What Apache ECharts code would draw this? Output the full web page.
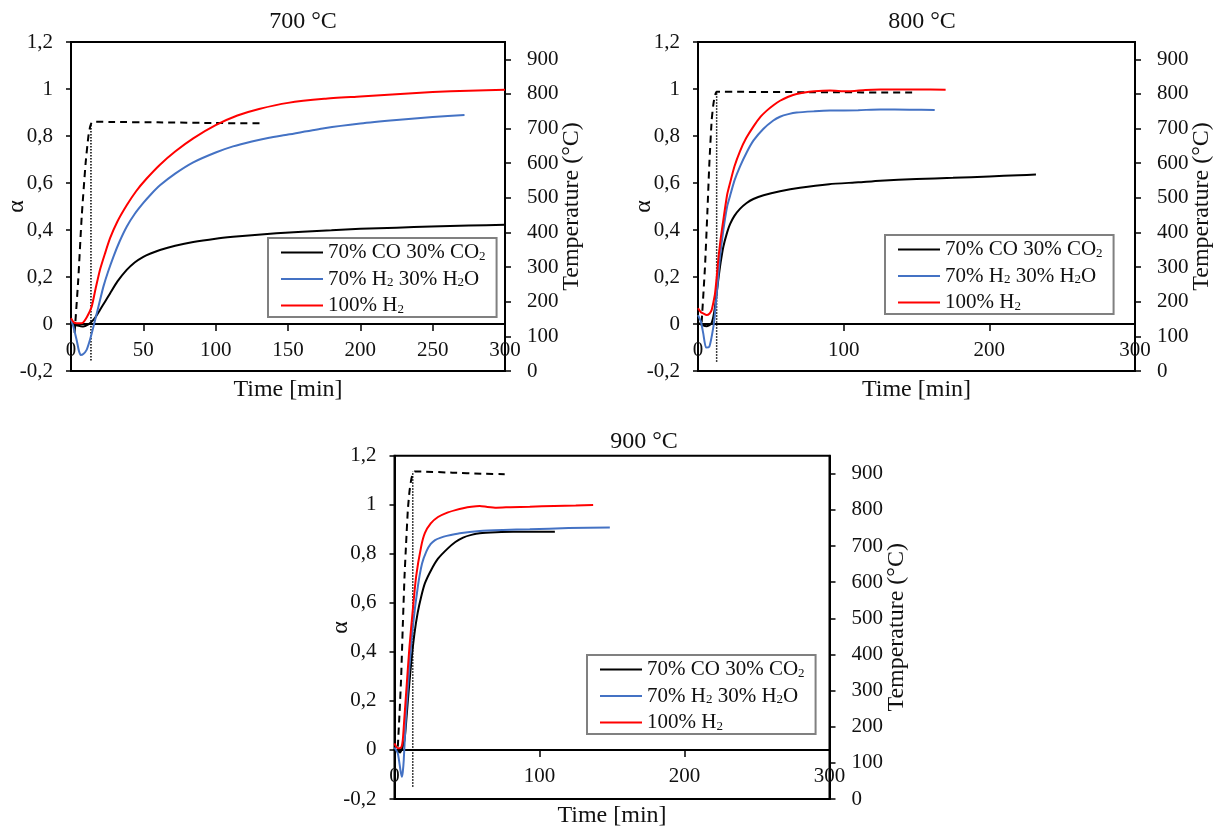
<!DOCTYPE html>
<html>
<head>
<meta charset="utf-8">
<script src="https://cdn.jsdelivr.net/npm/echarts@6/dist/echarts.min.js"></script>
<style>
  html, body { margin: 0; padding: 0; background: #fff; }
  #chart { width: 1225px; height: 832px; }
</style>
</head>
<body>
<div id="chart"></div>
<script>
// Reduction degree alpha vs time at three furnace set-points,
// with the measured sample temperature on the secondary axis.

const panelTitles = ['700 °C', '800 °C', '900 °C'];
const seriesNames = ['70% CO 30% CO2', '70% H2 30% H2O', '100% H2'];
const xTickStep = [50, 100, 100];

// ---- 700 °C : [time min, alpha] ----
const CO_700 = [[0,0.0],[3,-0.005],[8.5,-0.011],[12,-0.002],[14.3,0.01],[17,0.03],[20,0.06],[23.5,0.095],[27,0.13],[32,0.18],[38.5,0.23],[44,0.262],[50,0.286],[55,0.30],[61.5,0.315],[72,0.333],[84.5,0.349],[100,0.363],[112,0.371],[125,0.378],[142,0.386],[160,0.393],[180,0.399],[200,0.405],[225,0.41],[249,0.415],[275,0.419],[300,0.422]];
const W_700 = [[0,0.02],[1.6,-0.011],[3.9,-0.068],[5.5,-0.115],[6.7,-0.132],[8.5,-0.128],[10.8,-0.11],[12.5,-0.08],[14.3,-0.04],[17.8,0.045],[20,0.10],[22.4,0.159],[25.5,0.22],[29.3,0.286],[33.5,0.35],[38.5,0.414],[44,0.468],[50,0.515],[55,0.55],[61.5,0.59],[72,0.64],[84.5,0.688],[100,0.73],[112,0.756],[125,0.777],[137,0.793],[150,0.806],[175,0.833],[200,0.853],[225,0.868],[250,0.881],[272,0.889]];
const H2_700 = [[0,0.025],[1.5,0.01],[4,0.003],[8,0.005],[11,0.03],[14.3,0.074],[17,0.15],[20,0.23],[23.5,0.30],[27,0.365],[32,0.435],[38.5,0.505],[45,0.565],[52,0.617],[61.5,0.678],[72,0.734],[84.5,0.79],[100,0.846],[115,0.887],[130,0.915],[150,0.941],[175,0.958],[200,0.968],[222,0.977],[250,0.987],[275,0.993],[300,0.997]];
// [time min, °C]
const T_700 = [[2.5,110],[5,263],[7.4,446],[10.1,600],[12,677],[13.2,705],[14.2,716],[15.5,720],[30,719],[60,718],[100,716],[132,715]];
const MARK_700 = [[13.8,30],[13.8,716]];

// ---- 800 °C ----
const CO_800 = [[0,0.005],[3,-0.005],[6,-0.01],[9,0.0],[10.5,0.03],[11.7,0.074],[13.9,0.187],[15.5,0.26],[17.4,0.329],[20,0.39],[22,0.425],[25,0.46],[28.8,0.49],[33.4,0.515],[38,0.532],[45,0.548],[56.3,0.565],[70,0.58],[90,0.595],[110,0.603],[125,0.61],[150,0.617],[175,0.622],[200,0.628],[220,0.633],[232,0.636]];
const W_800 = [[0,0.038],[2,0.01],[3.6,-0.04],[5.5,-0.10],[7.8,-0.096],[9.8,-0.04],[11.2,0.017],[13.3,0.159],[15,0.28],[17.4,0.40],[20,0.50],[22,0.545],[25,0.61],[28.8,0.67],[33.4,0.73],[38,0.78],[44.8,0.83],[51.7,0.866],[56.3,0.882],[62,0.893],[67.7,0.90],[80,0.905],[90.6,0.908],[110,0.91],[125,0.913],[145,0.912],[162.5,0.911]];
const H2_800 = [[0,0.067],[2,0.05],[3.6,0.045],[5.9,0.038],[8,0.045],[9.4,0.06],[10.5,0.09],[11.7,0.13],[13,0.21],[14,0.28],[15.5,0.36],[17.4,0.443],[20,0.55],[22,0.60],[25,0.67],[28.8,0.735],[33,0.79],[38,0.84],[43,0.882],[47.2,0.908],[52,0.932],[56.3,0.95],[62,0.967],[67.7,0.979],[80,0.99],[90.6,0.994],[102,0.99],[115,0.996],[125,0.998],[150,0.998],[170,0.997]];
const T_800 = [[2.5,140],[4.8,301],[6.4,455],[7.8,600],[9.4,725],[10.4,765],[11.2,787],[12.8,806],[30,806],[80,805],[147,804]];
const MARK_800 = [[12.8,27],[12.8,806]];

// ---- 900 °C ----
const CO_900 = [[0,0.0],[2,-0.005],[4,-0.01],[5.5,0.01],[6.9,0.04],[8,0.11],[9.2,0.20],[11.5,0.354],[13.8,0.476],[16,0.56],[18.4,0.625],[21,0.68],[25.3,0.734],[30,0.78],[36.8,0.822],[42,0.848],[47.3,0.866],[53,0.877],[58.8,0.884],[70,0.888],[81.8,0.89],[95,0.89],[110.6,0.89]];
const W_900 = [[0,0.01],[2.3,-0.014],[4.1,-0.082],[5,-0.109],[5.7,-0.09],[6.4,-0.04],[8,0.15],[10.3,0.34],[12.6,0.50],[16.1,0.666],[19,0.76],[22,0.81],[25,0.84],[28,0.856],[32,0.866],[36,0.873],[45,0.884],[58.8,0.893],[75,0.897],[93.3,0.90],[120,0.905],[148.5,0.907]];
const H2_900 = [[0,0.027],[1,0.015],[2.3,0.007],[4.6,0.01],[5.7,0.04],[6.8,0.13],[8,0.23],[10.3,0.42],[12.6,0.57],[14.9,0.707],[18.4,0.83],[21,0.885],[25,0.924],[30,0.95],[36,0.967],[42,0.978],[47.3,0.986],[53,0.992],[58.8,0.995],[64,0.991],[70.3,0.988],[80,0.99],[93.3,0.992],[110,0.995],[125,0.997],[137,0.999]];
const T_900 = [[2.3,145],[3.5,240],[4.6,338],[5.7,477],[6.9,615],[8,707],[9.2,800],[10.3,850],[11.5,883],[12.6,900],[13.8,906],[20,906],[40,903],[60,900],[76,899]];
const MARK_900 = [[12.6,34],[12.6,906]];

const alphaData = [[CO_700, W_700, H2_700], [CO_800, W_800, H2_800], [CO_900, W_900, H2_900]];
const tempData = [T_700, T_800, T_900];
const markData = [MARK_700, MARK_800, MARK_900];

// ---- layout ----
const FONT = '"Liberation Serif", "Times New Roman", serif';
const INK = '#111';
const lineColors = ['#000000', '#4472c4', '#ff0000'];
const ALPHA_MIN = -0.2, ALPHA_MAX = 1.2;
const grids = [
  { left: 71, top: 42, width: 434, height: 329 },
  { left: 698, top: 42, width: 437, height: 329 },
  { left: 394.5, top: 455.7, width: 435, height: 343.3 }
];
const titlePos = [[303, 10], [922, 10], [644, 430]];
const legendPos = [[268, 238], [885, 235], [587, 655]];

const richLegend = {
  '70% CO 30% CO2': '70% CO 30% CO{s|2}',
  '70% H2 30% H2O': '70% H{s|2} 30% H{s|2}O',
  '100% H2': '100% H{s|2}'
};

const fmtAlpha = v => {
  const r = Math.round(v * 10) / 10;
  return String(r).replace('.', ',');
};

// the time axis runs along alpha = 0: shift it up from the plot's bottom edge
const zeroShift = g => -g.height * (0 - ALPHA_MIN) / (ALPHA_MAX - ALPHA_MIN);

const option = {
  backgroundColor: '#fff',
  animation: false,
  title: panelTitles.map((t, i) => ({
    text: t, left: titlePos[i][0], top: titlePos[i][1], textAlign: 'center', padding: 0,
    textStyle: { fontFamily: FONT, fontSize: 24, fontWeight: 'normal', color: INK }
  })),
  grid: grids.map(g => Object.assign({
    show: true, borderColor: '#000', borderWidth: 2, backgroundColor: 'transparent',
    containLabel: false, outerBoundsMode: 'none'
  }, g)),
  legend: legendPos.map((p, i) => ({
    left: p[0], top: p[1], orient: 'vertical',
    data: seriesNames, selectedMode: false,
    icon: 'rect', itemWidth: 42, itemHeight: 2, itemGap: 5.5,
    padding: [4, 11, 1, 13],
    backgroundColor: '#fff', borderColor: '#808080', borderWidth: 2,
    formatter: name => richLegend[name],
    textStyle: {
      fontFamily: FONT, fontSize: 21, color: INK, lineHeight: 21,
      rich: { s: { fontFamily: FONT, fontSize: 13, color: INK, verticalAlign: 'bottom', lineHeight: 14 } }
    }
  })),
  xAxis: grids.map((g, i) => ({
    gridIndex: i, type: 'value', min: 0, max: 300, interval: xTickStep[i],
    position: 'bottom', offset: zeroShift(g),
    name: 'Time [min]', nameLocation: 'middle', nameGap: 54, nameMoveOverlap: false,
    nameTextStyle: { fontFamily: FONT, fontSize: 24, color: INK },
    axisLine: { onZero: false, lineStyle: { color: '#000', width: 2 } },
    axisTick: { show: true, length: 7, lineStyle: { color: '#000', width: 1.5 } },
    axisLabel: { fontFamily: FONT, fontSize: 21, color: INK, margin: 16 },
    splitLine: { show: false }
  })),
  yAxis: [],
  series: []
};

grids.forEach((g, i) => {
  option.yAxis.push({
    gridIndex: i, type: 'value', position: 'left', min: ALPHA_MIN, max: ALPHA_MAX, interval: 0.2,
    name: 'α', nameLocation: 'middle', nameRotate: 90, nameGap: 42, nameMoveOverlap: false,
    nameTextStyle: { fontFamily: FONT, fontSize: 24, color: INK },
    axisLine: { show: true, onZero: false, lineStyle: { color: '#000', width: 2 } },
    axisTick: { show: true, length: 5, lineStyle: { color: '#000', width: 1.5 } },
    axisLabel: { fontFamily: FONT, fontSize: 21, color: INK, margin: 18, formatter: fmtAlpha },
    splitLine: { show: false }
  });
  option.yAxis.push({
    gridIndex: i, type: 'value', position: 'right', min: 0, max: 950, interval: 100,
    name: 'Temperature (°C)', nameLocation: 'middle', nameRotate: 90, nameGap: 55, nameMoveOverlap: false,
    nameTextStyle: { fontFamily: FONT, fontSize: 24, color: INK },
    axisLine: { show: true, onZero: false, lineStyle: { color: '#000', width: 2 } },
    axisTick: { show: true, length: 6, lineStyle: { color: '#000', width: 1.5 } },
    axisLabel: { fontFamily: FONT, fontSize: 21, color: INK, margin: 22, showMaxLabel: false },
    splitLine: { show: false }
  });

  // measured sample temperature (dashed) and the set-point marker (dotted)
  option.series.push({
    type: 'line', name: 'T' + i, xAxisIndex: i, yAxisIndex: 2 * i + 1,
    data: tempData[i], symbol: 'none', smooth: 0.15,
    lineStyle: { color: '#000', width: 2, type: [7, 5] }, z: 2
  });
  option.series.push({
    type: 'line', name: 'M' + i, xAxisIndex: i, yAxisIndex: 2 * i + 1,
    data: markData[i], symbol: 'none',
    lineStyle: { color: '#000', width: 1.5, type: [1.5, 1.5] }, z: 2
  });

  alphaData[i].forEach((d, k) => {
    option.series.push({
      type: 'line', name: seriesNames[k], xAxisIndex: i, yAxisIndex: 2 * i,
      data: d, symbol: 'none', smooth: 0.2,
      itemStyle: { color: lineColors[k] },
      lineStyle: { color: lineColors[k], width: 2 }, z: 3
    });
  });
});

const chart = echarts.init(document.getElementById('chart'), null, { renderer: 'canvas' });
chart.setOption(option);
</script>
</body>
</html>
